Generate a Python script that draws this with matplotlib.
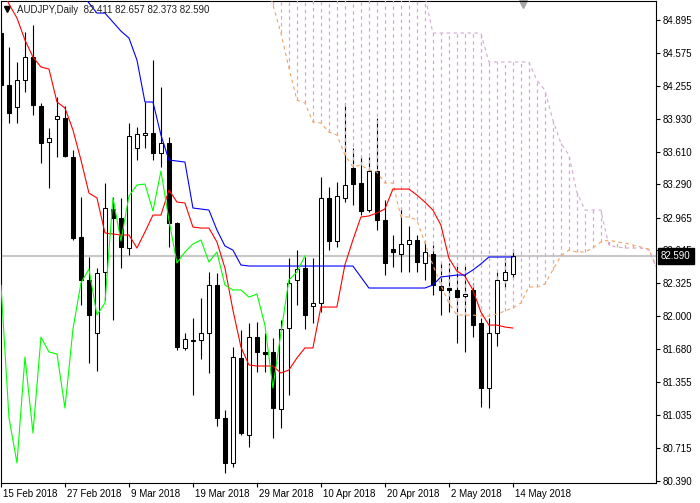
import numpy as np
import matplotlib
matplotlib.use('Agg')
import matplotlib.pyplot as plt
from matplotlib import transforms

plt.rcParams['font.family'] = ['Liberation Sans', 'DejaVu Sans']
plt.rcParams['lines.scale_dashes'] = False

SYMBOL = 'AUDJPY,Daily'

# daily candles, 15 Feb 2018 .. 14 May 2018
opens = [84.768, 84.260, 84.045, 84.309, 84.533, 84.055, 83.703, 83.928, 83.937, 83.556,
         82.774, 82.354, 81.836, 82.432, 83.048, 82.960, 82.667, 83.644, 83.771, 83.791,
         83.595, 83.693, 82.911, 81.690, 81.758, 81.768, 81.836, 82.305, 81.006, 80.566,
         81.592, 80.840, 81.797, 81.651, 81.651, 81.094, 81.885, 82.354, 82.472, 82.100,
         82.129, 83.156, 82.735, 83.156, 83.449, 83.302, 83.038, 83.419, 82.941, 82.657,
         82.608, 82.706, 82.745, 82.520, 82.608, 82.296, 82.276, 82.257, 82.198, 82.257,
         81.934, 81.299, 81.836, 82.354, 82.411]
highs = [84.817, 84.631, 84.485, 84.778, 84.846, 84.084, 83.840, 84.142, 84.055, 83.625,
         83.165, 82.579, 82.472, 83.302, 83.165, 83.156, 83.888, 83.849, 84.094, 84.504,
         84.240, 83.752, 82.921, 81.836, 81.983, 82.178, 82.432, 82.423, 81.084, 81.700,
         81.866, 81.934, 81.944, 81.836, 81.787, 81.963, 82.569, 82.647, 82.579, 82.569,
         83.361, 83.263, 83.312, 84.084, 83.644, 83.556, 83.556, 83.937, 83.136, 82.794,
         83.058, 82.882, 82.794, 82.716, 82.696, 82.520, 82.520, 82.520, 82.501, 82.325,
         81.983, 81.983, 82.432, 82.569, 82.657]
lows = [83.888, 83.888, 83.888, 84.191, 83.967, 83.498, 83.253, 83.556, 83.556, 82.745,
        82.110, 81.543, 81.465, 82.159, 81.963, 82.472, 82.599, 83.527, 83.644, 83.527,
        83.459, 82.677, 81.670, 81.670, 81.231, 81.582, 81.445, 80.928, 80.468, 80.527,
        80.840, 80.722, 81.455, 81.455, 80.810, 80.908, 81.231, 82.110, 81.875, 81.934,
        82.042, 82.647, 82.677, 83.116, 83.087, 82.989, 83.019, 82.843, 82.403, 82.481,
        82.432, 82.432, 82.432, 82.354, 82.208, 82.012, 82.042, 81.739, 81.651, 81.797,
        81.113, 81.103, 81.709, 82.276, 82.373]
closes = [84.260, 83.986, 84.309, 84.533, 84.064, 83.693, 83.742, 83.957, 83.566, 82.765,
          82.354, 82.012, 82.423, 83.058, 82.960, 82.677, 83.761, 83.781, 83.791, 83.595,
          83.693, 82.911, 81.700, 81.778, 81.768, 81.836, 82.305, 81.006, 80.566, 81.602,
          80.859, 81.797, 81.651, 81.631, 81.103, 81.875, 82.325, 82.462, 82.012, 82.129,
          83.156, 82.735, 83.175, 83.283, 83.292, 83.029, 83.419, 82.941, 82.520, 82.628,
          82.706, 82.745, 82.530, 82.628, 82.305, 82.257, 82.257, 82.188, 82.217, 81.914,
          81.299, 81.836, 82.354, 82.432, 82.590]

# ichimoku lines
tenkan = [85.237, 85.051, 84.914, 84.699, 84.533, 84.436, 84.416, 84.094, 84.035, 83.820,
          83.527, 83.204, 83.156, 82.814, 82.804, 82.794, 82.794, 82.667, 82.823, 82.989,
          82.989, 83.234, 83.116, 83.107, 82.872, 82.862, 82.862, 82.726, 82.472, 82.061,
          81.700, 81.524, 81.514, 81.514, 81.514, 81.445, 81.475, 81.592, 81.690, 81.690,
          82.090, 82.090, 82.090, 82.501, 82.745, 82.970, 82.980, 83.009, 83.048, 83.243,
          83.243, 83.243, 83.185, 83.116, 83.038, 82.892, 82.569, 82.442, 82.393, 82.257,
          82.042, 81.914, 81.914, 81.895, 81.885]
kijun = [85.178, 85.178, 85.178, 85.178, 85.178, 85.178, 85.178, 85.178, 85.178, 85.178,
         85.178, 85.061, 84.963, 84.963, 84.875, 84.787, 84.719, 84.504, 84.094, 84.094,
         83.771, 83.527, 83.517, 83.507, 83.058, 83.048, 83.038, 82.843, 82.687, 82.647,
         82.501, 82.491, 82.491, 82.491, 82.491, 82.491, 82.491, 82.491, 82.491, 82.491,
         82.491, 82.491, 82.491, 82.491, 82.491, 82.384, 82.276, 82.276, 82.276, 82.276,
         82.276, 82.276, 82.276, 82.276, 82.305, 82.384, 82.393, 82.403, 82.403, 82.452,
         82.511, 82.579, 82.579, 82.579, 82.579]

SPAN_START = 33   # first bar index of the senkou arrays below
span_a = [85.335, 85.042, 84.768, 84.426, 84.113, 84.084, 83.898, 83.888, 83.800, 83.771,
          83.576, 83.459, 83.478, 83.429, 83.410, 83.302, 83.302, 82.970, 82.970, 82.941,
          82.716, 82.501, 82.305, 82.129, 82.012, 82.012, 82.012, 82.002, 82.002, 82.022,
          82.051, 82.081, 82.129, 82.286, 82.286, 82.315, 82.452, 82.589, 82.647, 82.628,
          82.628, 82.667, 82.726, 82.745, 82.726, 82.716, 82.696, 82.677, 82.657, 82.472]
span_b = [85.237, 85.237, 85.237, 85.237, 85.237, 85.237, 85.237, 85.237, 85.237, 85.237,
          85.237, 85.237, 85.237, 85.237, 85.237, 85.237, 85.237, 85.237, 85.237, 85.237,
          85.139, 84.768, 84.768, 84.768, 84.768, 84.768, 84.768, 84.768, 84.485, 84.485,
          84.485, 84.485, 84.485, 84.485, 84.309, 84.211, 83.918, 83.693, 83.576, 83.214,
          83.038, 83.038, 83.038, 82.696, 82.677, 82.667, 82.667, 82.667, 82.647, 82.472]
CHIKOU_SHIFT = 26

date_bars = [0, 8, 16, 24, 32, 40, 48, 56, 64]
date_labels = ['15 Feb 2018', '27 Feb 2018', '9 Mar 2018', '19 Mar 2018', '29 Mar 2018',
               '10 Apr 2018', '20 Apr 2018', '2 May 2018', '14 May 2018']
price_ticks = [84.895, 84.575, 84.255, 83.930, 83.610, 83.290, 82.965, 82.645,
               82.325, 82.000, 81.680, 81.355, 81.035, 80.715, 80.390]

W, H = 700, 503
fig = plt.figure(figsize=(W / 100, H / 100), dpi=100)
ax = fig.add_axes([0.5 / W, 20 / H, 655.5 / W, 482 / H])

o = np.array(opens)
h = np.array(highs)
l = np.array(lows)
c = np.array(closes)
x = np.arange(len(c))
up = c >= o

# candles
ax.vlines(x, l, h, color='black', lw=0.8, zorder=2)
lo = np.minimum(o, c)
ht = np.abs(c - o)
ax.bar(x[up], ht[up], bottom=lo[up], width=0.5, color='white',
       edgecolor='black', lw=0.75, zorder=4)
ax.bar(x[~up], ht[~up], bottom=lo[~up], width=0.5, color='black',
       edgecolor='black', lw=0.75, zorder=4)

# kumo, drawn as dotted vertical lines per bar
a = np.array(span_a)
b = np.array(span_b)
xs = np.arange(SPAN_START, SPAN_START + len(a))
dots = (0, (2.5, 2.5))
kumo_b = '#d4a8d4'
kumo_a = '#f4a460'
m = b >= a
ax.vlines(xs[m], a[m], b[m], colors=kumo_b, linestyles=[dots], lw=0.9, zorder=3)
ax.vlines(xs[~m], b[~m], a[~m], colors=kumo_a, linestyles=[dots], lw=0.9, zorder=3)
ax.plot(xs, a, color=kumo_a, ls=dots, lw=0.8, zorder=5)
ax.plot(xs, b, color=kumo_b, ls=dots, lw=0.8, zorder=5)

ax.plot(x, tenkan, color='#ff0000', lw=0.8, zorder=6)
ax.plot(x, kijun, color='#0000ff', lw=0.8, zorder=6)
ax.plot(x[:len(c) - CHIKOU_SHIFT], c[CHIKOU_SHIFT:], color='#00ff00', lw=0.8, zorder=6)

# last price line
ax.axhline(c[-1], color='#c8c8c8', lw=1.5, zorder=1)

ax.set_xlim(-0.06, 81.9)
ax.set_ylim(80.3705, 85.081)

ax.yaxis.tick_right()
ax.set_yticks(price_ticks)
ax.set_yticklabels([f'{p:.3f}' for p in price_ticks])
ax.tick_params(axis='y', direction='out', length=3, width=0.8, pad=1.5, labelsize=7)

ax.set_xticks(date_bars)
ax.set_xticklabels(date_labels)
ax.tick_params(axis='x', direction='out', length=3, width=0.8, pad=1.5, labelsize=7)
shift = transforms.ScaledTranslation(2 / 100, 0, fig.dpi_scale_trans)
for lbl in ax.get_xticklabels():
    lbl.set_horizontalalignment('left')
    lbl.set_transform(lbl.get_transform() + shift)

for s in ax.spines.values():
    s.set_linewidth(0.8)
    s.set_color('black')

# current price box on the scale
box_tr = ax.get_yaxis_transform() + transforms.ScaledTranslation(5 / 100, 0, fig.dpi_scale_trans)
ax.text(1.0, c[-1], f'{c[-1]:.3f}', transform=box_tr,
        ha='left', va='center', fontsize=7, color='white', zorder=10, clip_on=False,
        bbox=dict(boxstyle='square,pad=0.3', fc='black', ec='black'))

# header
fig.text(17 / W, 1 - 10 / H,
         f'{SYMBOL}  {o[-1]:.3f} {h[-1]:.3f} {l[-1]:.3f} {c[-1]:.3f}',
         va='center', ha='left', fontsize=7, color='#202020')
ax.plot([7 / W], [1 - 9 / H], marker='v', ms=4, color='black',
        transform=fig.transFigure, clip_on=False)
ax.plot([523 / W], [1 - 4 / H], marker='v', ms=6, color='#a8a8a8', mec='#a8a8a8',
        transform=fig.transFigure, clip_on=False)

fig.savefig('out.png', dpi=100, facecolor='white')
